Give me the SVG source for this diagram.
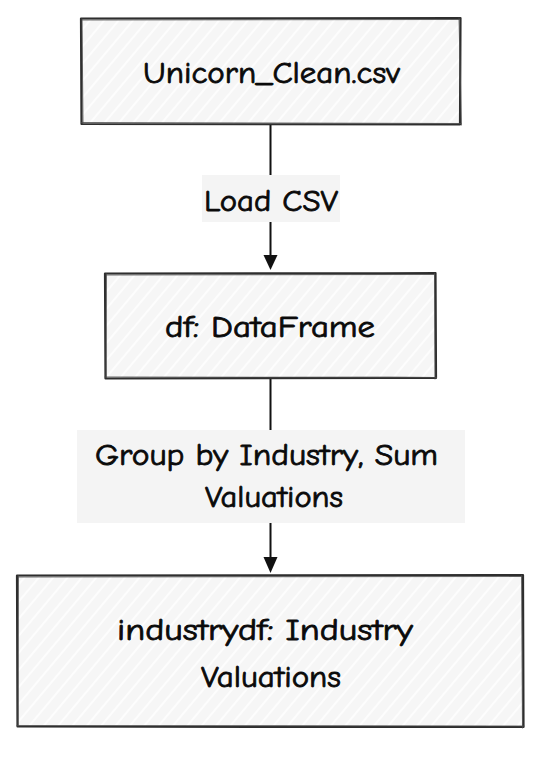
<svg xmlns="http://www.w3.org/2000/svg" width="558" height="770" viewBox="0 0 558 770">
<style>
  .box { fill: url(#hach); }
  .edge { fill: none; stroke: #2e2e2e; stroke-width: 2.2; stroke-linejoin: round; stroke-linecap: round; }
  .edge2 { fill: none; stroke: #4a4a4a; stroke-width: 1; stroke-linecap: round; opacity: 0.8; }
  .lbl { fill: #f4f4f4; }
  .t { font-family: "Comic Sans MS", "Comic Neue", "Noto Sans", "Open Sans", sans-serif; font-size: 30px; font-weight: 500; fill: #0a0a0a; stroke: #0a0a0a; stroke-width: 0.8; stroke-linejoin: round; }
  .conn { fill: none; stroke: #111; stroke-width: 2; stroke-linecap: round; }
</style>
<defs>
  <pattern id="hach" width="11" height="11" patternUnits="userSpaceOnUse" patternTransform="rotate(40)">
    <rect width="11" height="11" fill="#f6f6f6"/>
    <line x1="5" y1="0" x2="5" y2="11" stroke="#ffffff" stroke-width="1.6"/>
  </pattern>
</defs>
<rect width="558" height="770" fill="#ffffff"/>

<g id="connectors">
  <g id="e1">
    <line class="conn" x1="270.5" y1="125" x2="270.5" y2="256"/>
    <path d="M263.5,255 L277.5,255 L270.5,270 Z" fill="#111"/>
    <rect class="lbl" x="202" y="175" width="138" height="47"/>
    <text class="t" x="204" y="211" textLength="134" lengthAdjust="spacingAndGlyphs">Load CSV</text>
  </g>
  <g id="e2">
    <line class="conn" x1="270.5" y1="379" x2="270.5" y2="558"/>
    <path d="M263.5,557 L277.5,557 L270.5,573 Z" fill="#111"/>
    <rect class="lbl" x="77" y="430" width="388" height="93"/>
    <text class="t" x="95" y="465" textLength="343" lengthAdjust="spacingAndGlyphs">Group by Industry, Sum</text>
    <text class="t" x="205" y="507" textLength="138" lengthAdjust="spacingAndGlyphs">Valuations</text>
  </g>
</g>

<g id="node-csv">
  <rect class="box" x="81" y="18" width="379" height="106"/>
  <path class="edge" d="M81,18.5 C200,17.5 340,19 460.5,18 L460,124.5 C330,123.5 200,125 81.5,124 Z"/>
  <path class="edge2" d="M82.5,20 L459,19.5 M81.5,122.5 L461,123.5 M82,19 L83,123 M459,18 L461.5,125"/>
  <text class="t" x="143" y="83" textLength="257" lengthAdjust="spacingAndGlyphs">Unicorn_Clean.csv</text>
</g>

<g id="node-df">
  <rect class="box" x="105" y="273" width="330" height="105"/>
  <path class="edge" d="M105,273.5 C200,272.5 320,274 435.5,273 L436,378 C320,377.5 200,379 105.5,378.5 Z"/>
  <path class="edge2" d="M106,275 L434,274.5 M105,377 L436.5,377.5 M106.5,274 L106,377.5 M434.5,273.5 L435,379"/>
  <text class="t" x="165" y="337" textLength="210" lengthAdjust="spacingAndGlyphs">df: DataFrame</text>
</g>

<g id="node-industrydf">
  <rect class="box" x="17" y="575" width="506" height="152"/>
  <path class="edge" d="M17,575.5 C180,574.5 360,576.5 523,575 L523.5,727 C360,726 180,728 17.5,726.5 Z"/>
  <path class="edge2" d="M18,577 L522,576.5 M17,725.5 L524,726 M18.5,576 L18,726 M521.5,575.5 L522.5,728"/>
  <text class="t" x="117" y="640" textLength="296" lengthAdjust="spacingAndGlyphs">industrydf: Industry</text>
  <text class="t" x="201" y="687" textLength="140" lengthAdjust="spacingAndGlyphs">Valuations</text>
</g>
</svg>
